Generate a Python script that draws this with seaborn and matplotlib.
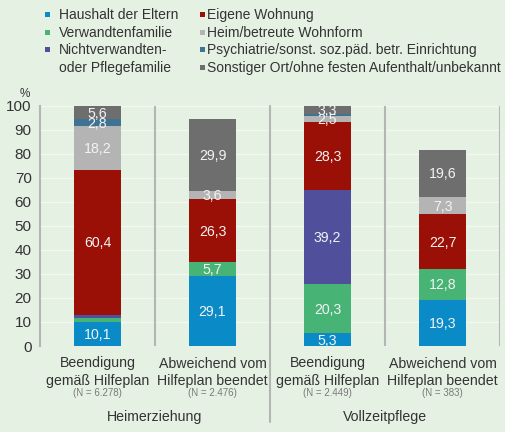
import numpy as np
import pandas as pd
import matplotlib
matplotlib.use("Agg")
import matplotlib.pyplot as plt
import matplotlib.transforms as mtransforms
from matplotlib.patches import Rectangle
from matplotlib import font_manager
import seaborn as sns

# ---------------- data ----------------
cat_keys = ["c0", "c1", "c2", "c3"]
cat_line1 = ["Beendigung", "Abweichend vom", "Beendigung", "Abweichend vom"]
cat_line2 = ["gemäß Hilfeplan", "Hilfeplan beendet", "gemäß Hilfeplan", "Hilfeplan beendet"]
n_labels = ["(N = 6.278)", "(N = 2.476)", "(N = 2.449)", "(N = 383)"]
groups = ["Heimerziehung", "Vollzeitpflege"]

series_names = [
    "Haushalt der Eltern",
    "Verwandtenfamilie",
    "Nichtverwandten-\noder Pflegefamilie",
    "Eigene Wohnung",
    "Heim/betreute Wohnform",
    "Psychiatrie/sonst. soz.päd. betr. Einrichtung",
    "Sonstiger Ort/ohne festen Aufenthalt/unbekannt",
]
haushalt = [10.1, 29.1, 5.3, 19.3]
verwandten = [1.5, 5.7, 20.3, 12.8]
nichtverwandten = [1.3, 0.0, 39.2, 0.0]
eigene = [60.4, 26.3, 28.3, 22.7]
heim = [18.2, 3.6, 2.5, 7.3]
psychiatrie = [2.8, 0.0, 1.1, 0.0]
sonstiger = [5.6, 29.9, 3.3, 19.6]
series_values = [haushalt, verwandten, nichtverwandten, eigene, heim, psychiatrie, sonstiger]

colors = ["#0a8bc7", "#47b475", "#4f4f9c", "#9b1006", "#b4b4b4", "#3f7393", "#6e6e6e"]
bg = "#e5f1e3"
line_col = "#b4b6b4"
text_col = "#333333"

# ---------------- fonts ----------------
avail = {f.name for f in font_manager.fontManager.ttflist}
base_font = "Liberation Sans" if "Liberation Sans" in avail else "DejaVu Sans"
narrow_font = "Liberation Sans Narrow" if "Liberation Sans Narrow" in avail else base_font

sns.set_theme(style="white")
plt.rcParams["font.family"] = [base_font, "DejaVu Sans"]

W, H = 505, 432
fig = plt.figure(figsize=(W / 100, H / 100), dpi=100)
fig.patch.set_facecolor(bg)

# axes: x 40..500 px, y(0)=346 px, y(100)=105.7 px
y0_px, y100_px = 346.0, 105.7
ax = fig.add_axes([40 / W, (H - y0_px) / H, 460 / W, (y0_px - y100_px) / H])
ax.set_facecolor(bg)

# ---------------- stacked bars (cumulative overlay) ----------------
vals = np.array(series_values)
cum = np.cumsum(vals, axis=0)
for k in range(len(series_names) - 1, -1, -1):
    df = pd.DataFrame({"cat": cat_keys, "val": cum[k]})
    sns.barplot(data=df, x="cat", y="val", order=cat_keys, color=colors[k],
                saturation=1, width=0.41, ax=ax, linewidth=0, zorder=3)

# value labels
for k in range(len(series_names)):
    for i in range(len(cat_keys)):
        v = vals[k, i]
        if v >= 2.5:
            bottom = cum[k, i] - v
            ax.text(i, bottom + v / 2 - 0.4, f"{v:.1f}".replace(".", ","),
                    ha="center", va="center", color="#f3f3f3", fontsize=10.2, zorder=5)

ax.set_xlim(-0.5, 3.5)
ax.set_ylim(0, 100)
ax.set_yticks(np.arange(0, 101, 10))
ax.set_yticklabels([str(t) for t in range(0, 101, 10)], fontsize=11,
                   color=text_col, family=[narrow_font, "DejaVu Sans"])
ax.tick_params(axis="y", length=0, pad=6)
ax.set_xticks([])
ax.set_xlabel("")
ax.set_ylabel("")
ax.yaxis.grid(True, color="#f3f8f1", linewidth=1.0, zorder=0)
ax.set_axisbelow(True)
for s in ["top", "right", "bottom"]:
    ax.spines[s].set_visible(False)
ax.spines["left"].set_color(line_col)
ax.spines["left"].set_linewidth(1.5)

# separators
for xs in [0.5, 2.5, 3.5]:
    ax.axvline(xs, color=line_col, linewidth=1.5, zorder=1)
bt = mtransforms.blended_transform_factory(ax.transData, ax.transAxes)
ax_h = y0_px - y100_px
def ay(px):
    return (y0_px - px) / ax_h
ax.plot([1.5, 1.5], [ay(422), 1.0], transform=bt, color=line_col, linewidth=1.5,
        clip_on=False, zorder=1)

# category labels
for i in range(len(cat_keys)):
    ax.text(i, ay(367.5), cat_line1[i], transform=bt, ha="center", va="baseline",
            fontsize=10.2, color=text_col)
    ax.text(i, ay(385.3), cat_line2[i], transform=bt, ha="center", va="baseline",
            fontsize=10.2, color=text_col)
    ax.text(i, ay(396.5), n_labels[i], transform=bt, ha="center", va="baseline",
            fontsize=7, color="#7a7a7a")
for g, xg in zip(groups, [0.5, 2.5]):
    ax.text(xg, ay(420.5), g, transform=bt, ha="center", va="baseline",
            fontsize=10.2, color=text_col)

# percent sign
fig.text(25 / W, 1 - 97 / H, "%", ha="center", va="baseline", fontsize=8.5, color=text_col)

# ---------------- legend (manual) ----------------
col_x = [(45, 59), (199.5, 207)]
row_base = [19.0, 36.7, 54.3, 72.3]
layout = [(0, 0, 0), (1, 0, 1), (2, 0, 2), (3, 1, 0), (4, 1, 1), (5, 1, 2), (6, 1, 3)]
for k, c, r in layout:
    sx, tx = col_x[c]
    base = row_base[r]
    fig.add_artist(Rectangle((sx / W, 1 - (base - 2.0) / H), 5 / W, 5 / H,
                             transform=fig.transFigure, facecolor=colors[k],
                             edgecolor="none"))
    lines = series_names[k].split("\n")
    for j, ln in enumerate(lines):
        fig.text(tx / W, 1 - (base + j * 17.8) / H, ln, ha="left", va="baseline",
                 fontsize=10, color=text_col)

fig.savefig("out.png", dpi=100, facecolor=bg)
